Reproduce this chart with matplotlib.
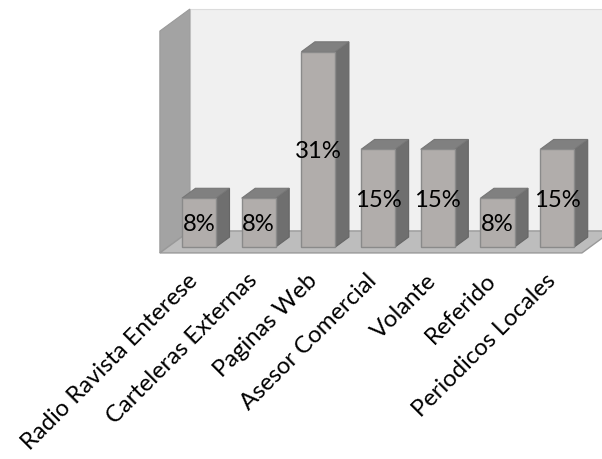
import matplotlib
matplotlib.use("Agg")
import matplotlib.pyplot as plt
from matplotlib.patches import Polygon
import matplotlib.transforms as mtransforms

# ---- data ----
categories = ["Radio Ravista Enterese", "Carteleras Externas", "Paginas Web",
              "Asesor Comercial", "Volante", "Referido", "Periodicos Locales"]
values = [7.7, 7.7, 30.8, 15.4, 15.4, 7.7, 15.4]
value_labels = ["8%", "8%", "31%", "15%", "15%", "8%", "15%"]

# ---- layout (pixel based) ----
W, H = 602, 459
fig = plt.figure(figsize=(W / 100, H / 100), dpi=100)
fig.patch.set_facecolor("white")
ax_l, ax_r, ax_t, ax_b = 150, 602, 0, 256
ax = fig.add_axes([ax_l / W, (H - ax_b) / H, (ax_r - ax_l) / W, (ax_b - ax_t) / H])
px_per_x, px_per_y = 59.7, 6.34
x0_px, y0_px = 199, 247
ax.set_xlim((ax_l - x0_px) / px_per_x, (ax_r - x0_px) / px_per_x)
ax.set_ylim(-(ax_b - y0_px) / px_per_y, (y0_px - ax_t) / px_per_y)
ax.set_facecolor("none")
for s in ax.spines.values():
    s.set_visible(False)

# oblique projection: depth z shifts right and up
DX, DY = 30 / px_per_x, 22 / px_per_y


def P(x, y, z):
    return (x + z * DX, y + z * DY)


z_floor_front, z_back = -0.27, 0.73
bar_depth = 0.45
bar_w = 0.57
x_min, x_max = -0.52, 6.55
wall_top = 35.0
FS = 17.2

# back wall
ax.add_patch(Polygon([P(x_min, 0, z_back), P(x_max + 1, 0, z_back),
                      P(x_max + 1, wall_top, z_back), P(x_min, wall_top, z_back)],
                     closed=True, facecolor="#f0f0f0", edgecolor="#dcdcdc", lw=0.8, zorder=1))
# left wall
ax.add_patch(Polygon([P(x_min, 0, z_floor_front), P(x_min, 0, z_back),
                      P(x_min, wall_top, z_back), P(x_min, wall_top, z_floor_front)],
                     closed=True, facecolor="#a3a3a3", edgecolor="#9a9a9a", lw=0.8, zorder=2))
# floor
ax.add_patch(Polygon([P(x_min, 0, z_floor_front), P(x_max, 0, z_floor_front),
                      P(x_max, 0, z_back), P(x_min, 0, z_back)],
                     closed=True, facecolor="#bdbdbd", edgecolor="#999999", lw=1.0, zorder=3))

# bars
for i, v in enumerate(values):
    xl, xr = i - bar_w / 2, i + bar_w / 2
    side = [P(xr, 0, 0), P(xr, 0, bar_depth), P(xr, v, bar_depth), P(xr, v, 0)]
    top = [P(xl, v, 0), P(xr, v, 0), P(xr, v, bar_depth), P(xl, v, bar_depth)]
    front = [P(xl, 0, 0), P(xr, 0, 0), P(xr, v, 0), P(xl, v, 0)]
    ax.add_patch(Polygon(side, closed=True, facecolor="#6f6f6f", edgecolor="#666666", lw=0.8, zorder=4))
    ax.add_patch(Polygon(top, closed=True, facecolor="#808080", edgecolor="#767676", lw=0.8, zorder=4))
    ax.add_patch(Polygon(front, closed=True, facecolor="#b1adab", edgecolor="#8a8a8a", lw=1.0, zorder=5))
    ax.text(i, v / 2, value_labels[i], ha="center", va="center_baseline",
            fontsize=FS, family="Lato", color="black", zorder=6)

ax.set_yticks([])
ax.set_xticks(range(len(categories)))
ax.set_xticklabels(categories, rotation=45, ha="right", rotation_mode="anchor",
                   fontsize=FS, family="Lato")
ax.tick_params(axis="x", length=0, pad=10)
shift = mtransforms.ScaledTranslation(-12 / 100, 0, fig.dpi_scale_trans)
for lab in ax.get_xticklabels():
    lab.set_transform(lab.get_transform() + shift)

fig.savefig("out.png", dpi=100)
